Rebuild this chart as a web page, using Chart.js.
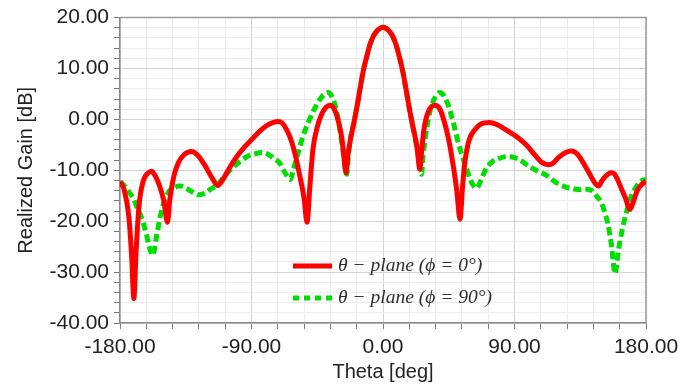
<!DOCTYPE html>
<html>
<head>
<meta charset="utf-8">
<style>
  html, body { margin: 0; padding: 0; background: #ffffff; }
  #wrap { width: 700px; height: 387px; }
</style>
<script src="https://cdn.jsdelivr.net/npm/chart.js@4/dist/chart.umd.min.js"></script>
</head>
<body>
<div id="wrap"><canvas id="c" width="700" height="387"></canvas></div>
<script>
// Realized gain cuts, theta in degrees, gain in dB
const thetaPhi0 = [
  -180, -177, -174, -172, -170.5, -169, -167, -164, -161, -158.5, -156, -153, -150, -147.5,
  -146, -143, -140, -136, -131, -127, -122, -117, -113, -110, -105, -100, -95, -90, -85,
  -80, -75, -72, -69, -66, -63, -60, -57, -54, -52, -50, -48, -45, -42, -39, -36, -33,
  -30, -28, -26.5, -25.3, -24, -22, -20, -18, -16, -13.5, -11, -9, -6.5, -4.4, -2, 0,
  2, 4.4, 6.5, 9, 11, 13.5, 16, 18, 20, 22, 23.5, 25.2, 26.5, 28, 31, 35.5, 39, 42, 45, 48,
  50.5, 52.7, 54.5, 56, 59, 63, 67, 73, 78, 85, 92, 98, 104, 109, 113, 116, 120, 125,
  129, 133, 137, 141, 145, 147.5, 150, 153, 156, 158, 160, 163, 166, 169, 171, 174, 177, 180
];
const gainPhi0 = [
  -12.2, -14, -19, -27, -35.2, -26, -17, -12, -10.6, -10.2, -11, -13, -16, -20.2,
  -16, -11, -8.5, -6.9, -6.3, -7, -9, -11.5, -13, -12, -9.5, -7.3, -5.5, -4, -2.5,
  -1.3, -0.6, -0.4, -0.7, -2, -4, -7, -11, -15.5, -20.2, -13, -6, -1.5, 1, 2.4, 2.8, 1.8,
  -1, -4, -8, -10.5, -7, -3.5, -0.8, 2.2, 5.5, 9.5, 12.5, 14.6, 16.4, 17.3, 17.9, 18.1,
  17.9, 17.3, 16.4, 14.6, 12.5, 9.5, 5.5, 2.2, -0.8, -3.5, -6, -9.8, -6, -2, 1.5, 2.8, 2, -0.5, -4, -9,
  -14, -19.6, -13, -8.5, -4, -2, -0.9, -0.6, -1, -2.2, -3.5, -5, -7, -8.5, -8.9, -8.7, -7.5, -6.5,
  -6.2, -6.8, -8.5, -10.5, -12.5, -13.1, -12, -11, -10.5, -10.6, -11.5, -13.5, -15.5, -17.7, -16.5, -14, -12.8, -12.2
];

const thetaPhi90 = [
  -180, -177, -174, -171, -168, -165, -162, -160, -157.6, -155, -152, -149, -146, -143, -139,
  -135, -130, -126, -122, -118, -113, -108, -103, -98, -93, -88, -83, -79, -75, -71, -67,
  -63.6, -61, -58, -55, -51, -47, -43, -40, -37.5, -35, -33, -31, -29, -27, -24.8,
  -23.5, -22, -20, -18, -16, -13.5, -11, -9, -6.5, -4.4, -2, 0,
  2, 4.4, 6.5, 9, 11, 13.5, 16, 18, 20, 22, 24, 26.3,
  27.5, 29, 31, 33, 36, 39, 42, 45, 48, 51, 54, 57, 60, 64, 67, 70, 74, 79, 85, 90,
  95, 100, 106, 112, 118, 125, 130, 135, 139, 143, 146, 149.5, 152, 154, 156.5, 158.8,
  161, 163.5, 166.8, 170, 173.6, 177, 180
];
const gainPhi90 = [
  -12.2, -13, -14.2, -15.5, -17.5, -19.5, -22.5, -25, -26.7, -23, -18.5, -15.5, -14, -13.4, -13.1,
  -13.5, -14.3, -14.8, -14.5, -13.7, -12.8, -11, -9.5, -8.3, -7.3, -6.8, -6.5, -6.8, -7.6, -8.5, -10.5,
  -11.8, -9.5, -6.5, -3.5, -0.5, 2, 4, 5, 5.3, 4.5, 3, 0.5, -3, -7, -10.8,
  -6.5, -3.5, -0.8, 2.2, 5.5, 9.5, 12.5, 14.6, 16.4, 17.3, 17.9, 18.1,
  17.9, 17.3, 16.4, 14.6, 12.5, 9.5, 5.5, 2.2, -0.8, -3.5, -7, -10.8,
  -7, -3.5, 0, 2.5, 4.5, 5.3, 4.5, 2.5, -0.5, -4, -7, -9.5, -12, -13.5, -12, -10, -8.5, -7.7, -7.3, -7.5,
  -8.2, -9.2, -10.2, -11, -12.3, -13.3, -13.6, -13.8, -13.7, -14, -15, -16.4, -18.5, -20.6, -25, -30.3,
  -26, -22, -18, -15, -13.1, -12, -11.8
];

const xTickLabels = [-180, -90, 0, 90, 180];
const yTickLabels = [-40, -30, -20, -10, 0, 10, 20];
const seriesLabels = ['θ − plane (ϕ = 0°)', 'θ − plane (ϕ = 90°)'];
const seriesColors = ['#ff0000', '#00dd00'];

const toPoints = (xs, ys) => xs.map((x, i) => ({ x: x, y: ys[i] }));

// Legend drawn inside the plot area, lower middle
const innerLegend = {
  id: 'innerLegend',
  afterDatasetsDraw(chart) {
    const ctx = chart.ctx;
    const rows = [
      { y: 266, dash: [], ds: chart.data.datasets[0] },
      { y: 298, dash: [6, 5], ds: chart.data.datasets[1] }
    ];
    ctx.save();
    rows.forEach(r => {
      ctx.beginPath();
      ctx.setLineDash(r.dash);
      ctx.lineWidth = 5;
      ctx.lineCap = 'butt';
      ctx.strokeStyle = r.ds.borderColor;
      ctx.moveTo(293, r.y);
      ctx.lineTo(332, r.y);
      ctx.stroke();
      ctx.setLineDash([]);
      ctx.fillStyle = '#2e2e2e';
      ctx.font = 'italic 19.5px "Liberation Serif"';
      ctx.textBaseline = 'middle';
      ctx.textAlign = 'left';
      ctx.fillText(r.ds.label, 338, r.y);
    });
    ctx.restore();
  }
};

// Closes the plot box on the top and right
const frame = {
  id: 'frame',
  beforeDatasetsDraw(chart) {
    const a = chart.chartArea, ctx = chart.ctx;
    ctx.save();
    ctx.strokeStyle = '#9a9a9a';
    ctx.lineWidth = 1.5;
    ctx.beginPath();
    ctx.moveTo(a.left, a.top);
    ctx.lineTo(a.right, a.top);
    ctx.lineTo(a.right, a.bottom);
    ctx.stroke();
    ctx.restore();
  }
};

new Chart(document.getElementById('c'), {
  type: 'scatter',
  data: {
    datasets: [
      {
        label: seriesLabels[0],
        data: toPoints(thetaPhi0, gainPhi0),
        showLine: true,
        borderColor: seriesColors[0],
        backgroundColor: seriesColors[0],
        borderWidth: 5,
        pointRadius: 0,
        cubicInterpolationMode: 'monotone'
      },
      {
        label: seriesLabels[1],
        data: toPoints(thetaPhi90, gainPhi90),
        showLine: true,
        borderColor: seriesColors[1],
        backgroundColor: seriesColors[1],
        borderWidth: 5,
        borderDash: [8, 4],
        pointRadius: 0,
        cubicInterpolationMode: 'monotone'
      }
    ]
  },
  options: {
    responsive: false,
    animation: false,
    devicePixelRatio: 1,
    layout: { padding: { top: 11, right: 54, left: 0, bottom: 0 } },
    plugins: { legend: { display: false }, tooltip: { enabled: false } },
    scales: {
      x: {
        type: 'linear',
        min: -180,
        max: 180,
        afterFit: s => { s.height = 64; },
        ticks: {
          stepSize: 18,
          autoSkip: false,
          maxRotation: 0,
          padding: 6,
          color: '#222222',
          font: { family: '"Liberation Sans", Arial, sans-serif', size: 21 },
          callback: v => xTickLabels.includes(v) ? v.toFixed(2) : ''
        },
        grid: {
          color: c => (c.tick && xTickLabels.includes(c.tick.value)) ? '#d4d4d4' : '#ececec',
          lineWidth: 1,
          tickColor: '#7a7a7a',
          tickLength: 6
        },
        border: { color: '#8a8a8a', width: 1.5 },
        title: {
          display: true,
          text: 'Theta [deg]',
          color: '#222222',
          font: { family: '"Liberation Sans", Arial, sans-serif', size: 20 },
          padding: { top: 0, bottom: 3 }
        }
      },
      y: {
        type: 'linear',
        min: -40,
        max: 20,
        afterFit: s => { s.width = 120; },
        ticks: {
          stepSize: 2,
          autoSkip: false,
          padding: 5,
          color: '#222222',
          font: { family: '"Liberation Sans", Arial, sans-serif', size: 21 },
          callback: v => yTickLabels.includes(v) ? v.toFixed(2) : ''
        },
        grid: {
          color: c => (c.tick && yTickLabels.includes(c.tick.value)) ? '#d4d4d4' : '#ececec',
          lineWidth: 1,
          tickColor: '#7a7a7a',
          tickLength: 6
        },
        border: { color: '#8a8a8a', width: 1.5 },
        title: {
          display: true,
          text: 'Realized Gain [dB]',
          color: '#222222',
          font: { family: '"Liberation Sans", Arial, sans-serif', size: 20 },
          padding: { top: 14, bottom: 0 }
        }
      }
    }
  },
  plugins: [frame, innerLegend]
});
</script>
</body>
</html>
